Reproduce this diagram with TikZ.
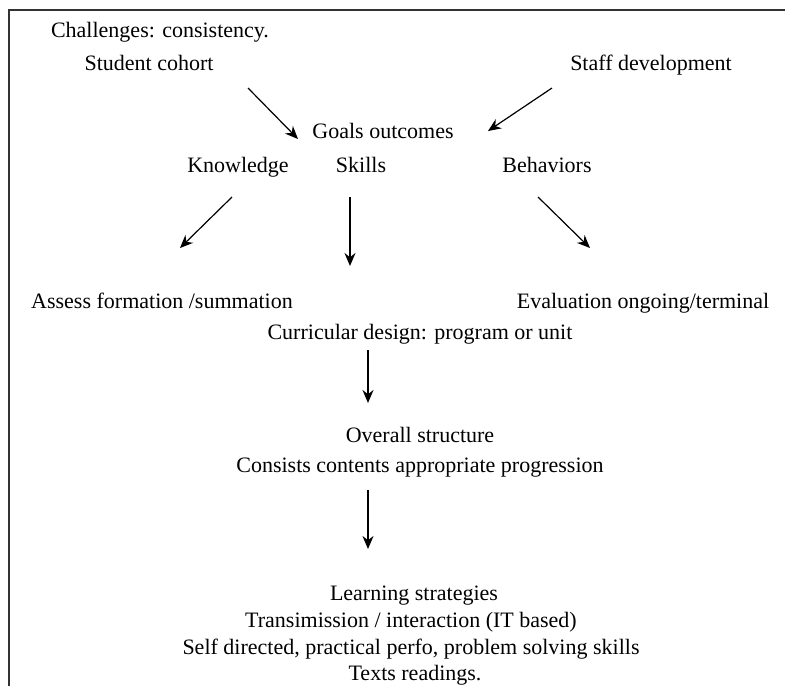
\documentclass[tikz,border=0pt]{standalone}
\usepackage{fontspec}
\setmainfont{Liberation Serif}
\usetikzlibrary{arrows.meta}
\begin{document}
\begin{tikzpicture}[x=1pt,y=-1pt,
  lbl/.style={anchor=base,inner sep=0pt,font=\fontsize{22}{26}\selectfont},
  arr/.style={-{Stealth[length=13pt,width=11pt]},line width=1.2pt,black},
  frame/.style={line width=1.6pt,black!80}]
\useasboundingbox (0,0) rectangle (785,686);
\clip (0,0) rectangle (785,686);
\draw[frame] (785,10) -- (9,10) -- (9,686);
% texts
\node[lbl] (chal) at (160,37) {Challenges: consistency.};
\node[lbl] (stud) at (149,70) {Student cohort};
\node[lbl] (staff) at (651,70) {Staff development};
\node[lbl] (goals) at (383,138) {Goals outcomes};
\node[lbl] (know) at (238,172) {Knowledge};
\node[lbl] (skills) at (361,172) {Skills};
\node[lbl] (behav) at (547,172) {Behaviors};
\node[lbl] (assess) at (162,308) {Assess formation /summation};
\node[lbl] (eval) at (643,308) {Evaluation ongoing/terminal};
\node[lbl] (curr) at (420,339) {Curricular design: program or unit};
\node[lbl] (over) at (420,442) {Overall structure};
\node[lbl] (cons) at (420,472) {Consists contents appropriate progression};
\node[lbl] (learn) at (414,600) {Learning strategies};
\node[lbl] (trans) at (411,627) {Transimission / interaction (IT based)};
\node[lbl] (self) at (411,654) {Self directed, practical perfo, problem solving skills};
\node[lbl] (texts) at (415,680) {Texts readings.};
% arrow end points
\coordinate (a1s) at (248,88);  \coordinate (a1e) at (298,139);
\coordinate (a2s) at (552,88);  \coordinate (a2e) at (488,131);
\coordinate (a3s) at (232,197); \coordinate (a3e) at (180,248);
\coordinate (a4s) at (350,197); \coordinate (a4e) at (350,266);
\coordinate (a5s) at (538,197); \coordinate (a5e) at (590,248);
\coordinate (a6s) at (368,350); \coordinate (a6e) at (368,403);
\coordinate (a7s) at (368,490); \coordinate (a7e) at (368,549);
\draw[arr] (a1s) -- (a1e);
\draw[arr] (a2s) -- (a2e);
\draw[arr] (a3s) -- (a3e);
\draw[arr] (a4s) -- (a4e);
\draw[arr] (a5s) -- (a5e);
\draw[arr] (a6s) -- (a6e);
\draw[arr] (a7s) -- (a7e);
\end{tikzpicture}
\end{document}
